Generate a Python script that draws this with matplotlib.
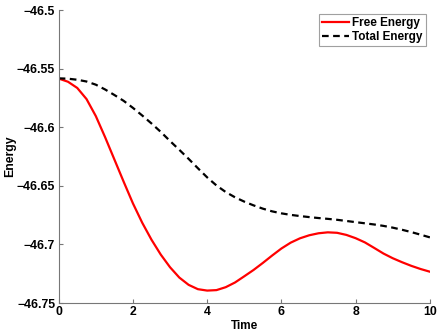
import matplotlib
matplotlib.use("Agg")
import matplotlib.pyplot as plt
from matplotlib.ticker import MultipleLocator, FuncFormatter

time = [0.0, 0.25, 0.5, 0.75, 1.0, 1.25, 1.5, 1.75, 2.0, 2.25, 2.5, 2.75, 3.0, 3.25, 3.5, 3.75,
        4.0, 4.25, 4.5, 4.75, 5.0, 5.25, 5.5, 5.75, 6.0, 6.25, 6.5, 6.75, 7.0, 7.25, 7.5, 7.75,
        8.0, 8.25, 8.5, 8.75, 9.0, 9.25, 9.5, 9.75, 10.0]

free_energy = [-46.5585, -46.5612, -46.5665, -46.5760, -46.5905, -46.6085, -46.6275, -46.6465,
               -46.6650, -46.6815, -46.6960, -46.7087, -46.7195, -46.7283, -46.7345, -46.7382,
               -46.7394, -46.7390, -46.7365, -46.7325, -46.7272, -46.7218, -46.7158, -46.7095,
               -46.7035, -46.6985, -46.6948, -46.6922, -46.6905, -46.6897, -46.6901, -46.6919,
               -46.6947, -46.6983, -46.7030, -46.7078, -46.7118, -46.7152, -46.7183, -46.7210,
               -46.7233]

total_energy = [-46.5583, -46.5586, -46.5595, -46.5610, -46.5637, -46.5678, -46.5725, -46.5775,
                -46.5835, -46.5900, -46.5968, -46.6040, -46.6118, -46.6193, -46.6270, -46.6350,
                -46.6428, -46.6497, -46.6553, -46.6598, -46.6635, -46.6667, -46.6695, -46.6718,
                -46.6735, -46.6748, -46.6758, -46.6767, -46.6775, -46.6782, -46.6790, -46.6800,
                -46.6810, -46.6820, -46.6830, -46.6842, -46.6857, -46.6875, -46.6895, -46.6917,
                -46.6940]

plt.rcParams['font.family'] = ['Liberation Sans', 'DejaVu Sans']
plt.rcParams['font.weight'] = 'bold'

fig = plt.figure(figsize=(4.4, 3.34), dpi=100)
ax = fig.add_axes([0.1334, 0.0928, 0.977 - 0.1334, 0.970 - 0.0928])

ax.plot(time, free_energy, color='red', lw=1.6, label='Free Energy')
ax.plot(time, total_energy, color='black', lw=1.6, dashes=(3, 2), label='Total Energy')

ax.set_xlim(0, 10)
ax.set_ylim(-46.75, -46.5)
ax.xaxis.set_major_locator(MultipleLocator(2))
ax.yaxis.set_major_locator(MultipleLocator(0.05))
ax.yaxis.set_major_formatter(FuncFormatter(lambda v, p: ('%g' % round(v, 4)).replace('-', '\u2212')))

for s in ['top', 'right']:
    ax.spines[s].set_visible(False)
for s in ['left', 'bottom']:
    ax.spines[s].set_color('#777777')
    ax.spines[s].set_linewidth(0.8)
ax.tick_params(direction='in', length=3, color='#777777', labelsize=8.8, width=0.8, pad=2.5)
for lab in ax.get_xticklabels() + ax.get_yticklabels():
    lab.set_fontweight('bold')

ax.set_xlabel('Time', fontsize=8.5, fontweight='bold', labelpad=1)
ax.set_ylabel('Energy', fontsize=8.8, fontweight='bold')
ax.yaxis.set_label_coords(-0.115, 0.5)

leg = ax.legend(loc='upper right', fontsize=8.5, frameon=True, fancybox=False,
                borderpad=0.25, labelspacing=0.15, handlelength=2.3, handletextpad=0.3,
                borderaxespad=0.35)
leg.get_frame().set_edgecolor('#888888')
leg.get_frame().set_linewidth(0.8)
for t in leg.get_texts():
    t.set_fontweight('bold')

fig.savefig('out.png', dpi=100)
